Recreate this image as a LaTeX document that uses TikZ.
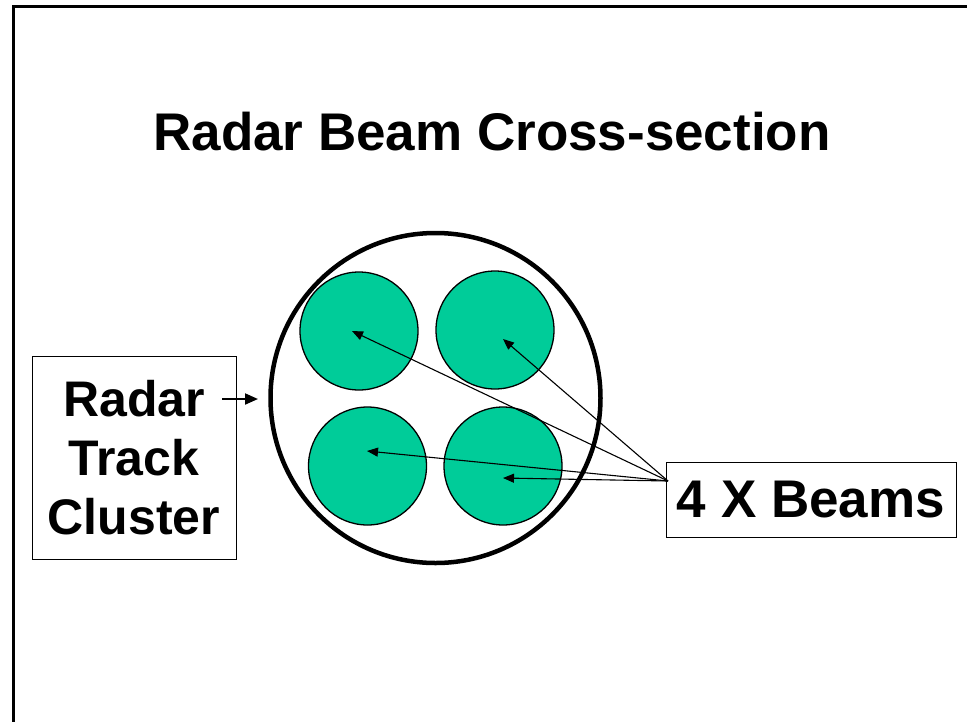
\documentclass[tikz,border=0pt]{standalone}
\usepackage{fontspec}
\setmainfont{Liberation Sans}
\usetikzlibrary{arrows.meta}
\definecolor{beamgreen}{RGB}{0,204,153}
\begin{document}
\begin{tikzpicture}[x=1pt,y=-1pt,
  beamdisc/.style={circle, draw=black, line width=1.3pt, fill=beamgreen, minimum size=118pt, inner sep=0pt},
  bigfont/.style={font=\bfseries\fontsize{53}{60}\selectfont},
  lblbox/.style={draw=black, line width=0.8pt, align=center, inner sep=0pt},
  ptr/.style={line width=1.1pt, -{Triangle[length=11pt,width=9pt]}}]
\useasboundingbox (0,0) rectangle (967,721);
% frame
\draw[line width=3pt] (13.5,730) -- (13.5,6) -- (975,6);
% title
\node[bigfont, anchor=base] (title) at (492,150) {Radar Beam Cross-section};
% big circle
\node[circle, draw=black, line width=4.5pt, minimum size=330pt, inner sep=0pt] (big) at (435.5,398) {};
% beams
\node[beamdisc] (b1) at (359,331) {};
\node[beamdisc] (b2) at (495,330) {};
\node[beamdisc] (b3) at (367.5,466) {};
\node[beamdisc] (b4) at (503,466) {};
% label boxes
\node[lblbox, font=\bfseries\fontsize{50}{59}\selectfont, minimum width=204pt, minimum height=203pt] (rtc) at (134,457.5) {Radar\\Track\\Cluster};
\node[lblbox, bigfont, minimum width=290pt, minimum height=75pt] (beams) at (811,499.5) {4 X Beams};
% arrows
\coordinate (src) at (668,481);
\coordinate (t1) at (352,331);
\coordinate (t2) at (503,339);
\coordinate (t3) at (367,451);
\coordinate (t4) at (503,478);
\draw[ptr] (src) -- (t1);
\draw[ptr] (src) -- (t2);
\draw[ptr] (src) -- (t3);
\draw[ptr] (src) -- (t4);
\coordinate (ra) at (222,399);
\coordinate (rb) at (258,399);
\draw[line width=2pt, -{Triangle[length=13pt,width=11pt]}] (ra) -- (rb);
\end{tikzpicture}
\end{document}
